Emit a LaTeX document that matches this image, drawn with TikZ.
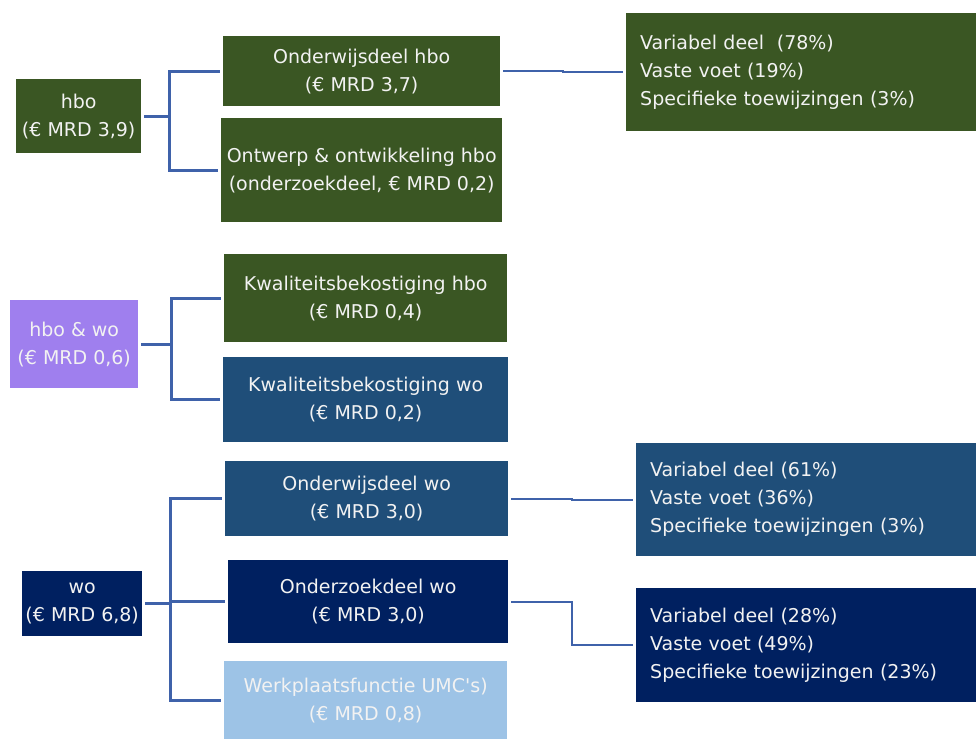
\documentclass[tikz,border=0pt]{standalone}
\usepackage{fontspec}
\setmainfont{DejaVu Sans}[Ligatures=TeXOff]

\definecolor{hbogreen}{HTML}{3A5623}
\definecolor{mixpurple}{HTML}{9F7FEE}
\definecolor{woblue}{HTML}{1F4E79}
\definecolor{wonavy}{HTML}{002060}
\definecolor{umcblue}{HTML}{9DC3E6}
\definecolor{linkblue}{HTML}{3F62AA}

\begin{document}
\begin{tikzpicture}[x=1pt,y=-1pt,
    blk/.style={rectangle, anchor=north west, inner sep=0pt, align=center, text=white!95!black, font=\fontsize{19}{28}\selectfont},
    lst/.style={blk, align=left, inner xsep=14pt},
    link/.style={draw=linkblue, line width=2.8pt, shorten <=3pt, shorten >=3pt},
    thinlink/.style={link, line width=2pt}]
    \useasboundingbox (0,0) rectangle (976,739);

    % hbo
    \node[blk, fill=hbogreen, minimum width=125pt, minimum height=74pt] (box-hbo) at (16,79) {hbo\\(€ MRD 3,9)};
    \node[blk, fill=hbogreen, minimum width=277pt, minimum height=70pt] (box-ow-hbo) at (223,36) {Onderwijsdeel hbo\\(€ MRD 3,7)};
    \node[blk, fill=hbogreen, minimum width=281pt, minimum height=104pt] (box-oo-hbo) at (221,118) {Ontwerp \& ontwikkeling hbo\\(onderzoekdeel, € MRD 0,2)};
    \node[lst, fill=hbogreen, text width=322pt, minimum height=118pt] (lst-hbo) at (626,13) {Variabel deel~ (78\%)\\Vaste voet (19\%)\\Specifieke toewijzingen (3\%)};

    % hbo & wo
    \node[blk, fill=mixpurple, minimum width=128pt, minimum height=88pt] (box-mix) at (10,300) {hbo \& wo\\(€ MRD 0,6)};
    \node[blk, fill=hbogreen, minimum width=283pt, minimum height=88pt] (box-kw-hbo) at (224,254) {Kwaliteitsbekostiging hbo\\(€ MRD 0,4)};
    \node[blk, fill=woblue, minimum width=285pt, minimum height=85pt] (box-kw-wo) at (223,357) {Kwaliteitsbekostiging wo\\(€ MRD 0,2)};

    % wo
    \node[blk, fill=wonavy, minimum width=120pt, minimum height=65pt] (box-wo) at (22,571) {wo\\(€ MRD 6,8)};
    \node[blk, fill=woblue, minimum width=283pt, minimum height=75pt] (box-ow-wo) at (225,461) {Onderwijsdeel wo\\(€ MRD 3,0)};
    \node[blk, fill=wonavy, minimum width=280pt, minimum height=83pt] (box-oz-wo) at (228,560) {Onderzoekdeel wo\\(€ MRD 3,0)};
    \node[blk, fill=umcblue, minimum width=283pt, minimum height=78pt] (box-umc) at (224,661) {Werkplaatsfunctie UMC's)\\(€ MRD 0,8)};
    \node[lst, fill=woblue, text width=312pt, minimum height=113pt] (lst-ow-wo) at (636,443) {Variabel deel (61\%)\\Vaste voet (36\%)\\Specifieke toewijzingen (3\%)};
    \node[lst, fill=wonavy, text width=312pt, minimum height=114pt] (lst-oz-wo) at (636,588) {Variabel deel (28\%)\\Vaste voet (49\%)\\Specifieke toewijzingen (23\%)};

    % connectors
    \draw[link] (box-hbo.east) -- ++(28,0) |- (box-ow-hbo.west);
    \draw[link] (box-hbo.east) -- ++(28,0) |- (box-oo-hbo.west);
    \draw[link] (box-mix.east) -- ++(33,0) |- (box-kw-hbo.west);
    \draw[link] (box-mix.east) -- ++(33,0) |- (box-kw-wo.west);
    \draw[link] (box-wo.east) -- ++(28,0) |- (box-ow-wo.west);
    \draw[link] (box-wo.east) -- ++(28,0) |- (box-oz-wo.west);
    \draw[link] (box-wo.east) -- ++(28,0) |- (box-umc.west);
    \draw[thinlink] (box-ow-hbo.east) -- ++(63,0) |- (lst-hbo.west);
    \draw[thinlink] (box-ow-wo.east) -- ++(64,0) |- (lst-ow-wo.west);
    \draw[thinlink] (box-oz-wo.east) -- ++(64,0) |- (lst-oz-wo.west);
\end{tikzpicture}
\end{document}
